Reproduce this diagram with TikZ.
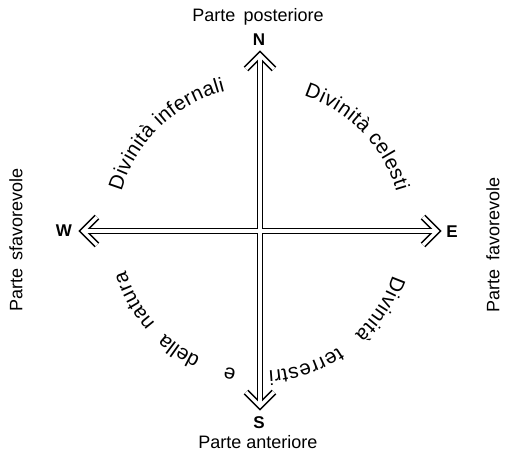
\documentclass[tikz,border=0pt]{standalone}
\usepackage{fontspec}
\setmainfont{Liberation Sans}
\usetikzlibrary{decorations.text}
\newcommand{\arcfont}{\fontsize{20.5}{24}\selectfont}
\begin{document}
\begin{tikzpicture}[x=1pt,y=1pt,
  lbl/.style={font=\fontsize{18}{21}\selectfont, inner sep=0pt},
  dirlbl/.style={font=\fontsize{17}{20}\selectfont\bfseries, inner sep=0pt},
  outerln/.style={line width=6.6pt, black, line join=miter, miter limit=10},
  innerln/.style={line width=3.2pt, white, line join=miter, miter limit=10},
  arcfit/.style={decorate, decoration={text along path, text align=fit to path, text={|\arcfont|#1}}},
  arccen/.style={decorate, decoration={text along path, text align=center, text={|\arcfont|#1}}}
]
\useasboundingbox (-260,-224) rectangle (249,231);

% arrow geometry
\coordinate (O) at (0,0);
\coordinate (nv) at (0,176);  \coordinate (nl) at (-14,162); \coordinate (nr) at (14,162);
\coordinate (sv) at (0,-175); \coordinate (sl) at (-14,-161); \coordinate (sr) at (14,-161);
\coordinate (wv) at (-177,0); \coordinate (wl) at (-163,14); \coordinate (wr) at (-163,-14);
\coordinate (ev) at (177,0);  \coordinate (el) at (163,14);  \coordinate (er) at (163,-14);

% black pass
\draw[outerln] (wv) -- (ev);
\draw[outerln] (nv) -- (sv);
\draw[outerln] (nl) -- (nv) -- (nr);
\draw[outerln] (sl) -- (sv) -- (sr);
\draw[outerln] (wl) -- (wv) -- (wr);
\draw[outerln] (el) -- (ev) -- (er);
% white pass
\draw[innerln] (wv) -- (ev);
\draw[innerln] (nv) -- (sv);
\draw[innerln] (nl) -- (nv) -- (nr);
\draw[innerln] (sl) -- (sv) -- (sr);
\draw[innerln] (wl) -- (wv) -- (wr);
\draw[innerln] (el) -- (ev) -- (er);

% direction letters
\node[dirlbl] (N) at (-1,191) {N};
\node[dirlbl] (S) at (-1,-192) {S};
\node[dirlbl] (W) at (-196,0) {W};
\node[dirlbl] (E) at (192,-1) {E};

% side labels
\node[lbl] (post) at (-2,214) {Parte\hspace{0.45em}posteriore};
\node[lbl] (ant) at (-2,-211) {Parte anteriore};
\node[lbl, rotate=90] (sfav) at (-244,-9) {Parte\hspace{0.45em}sfavorevole};
\node[lbl, rotate=90] (fav) at (233,-14) {Parte\hspace{0.45em}favorevole};

% curved texts
\path[arcfit={Divinità infernali}] (164:144) arc[start angle=164, end angle=104, radius=144];
\path[arcfit={Divinità celesti}] (72:142) arc[start angle=72, end angle=16, radius=142];
\path[arcfit={Divinità}] (-18.5:140) arc[start angle=-18.5, end angle=-47.5, radius=140];
\path[arcfit={terrestri}] (-56:140) arc[start angle=-56, end angle=-86.5, radius=140];
\path[arccen={e}] (-92:140) arc[start angle=-92, end angle=-112, radius=140];
\path[arccen={della}] (-108:140) arc[start angle=-108, end angle=-140, radius=140];
\path[arcfit={natura}] (-138.5:140) arc[start angle=-138.5, end angle=-163.5, radius=140];
\end{tikzpicture}
\end{document}
